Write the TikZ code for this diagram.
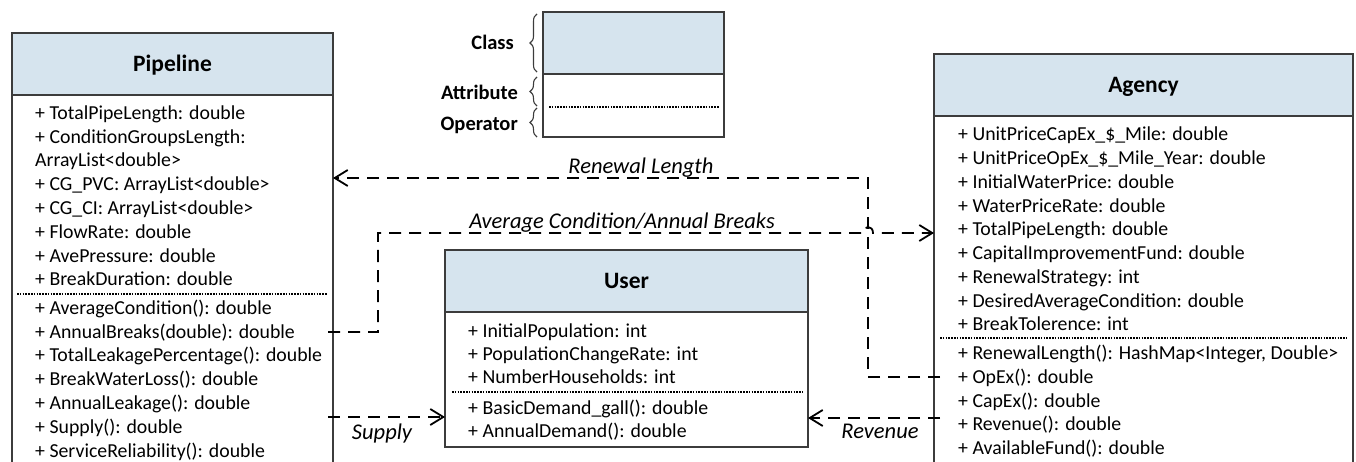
\documentclass[tikz,border=0pt]{standalone}
\usepackage{fontspec}
\setmainfont{Carlito}
\usetikzlibrary{arrows.meta,decorations.pathreplacing,calc}
\definecolor{hdr}{RGB}{214,228,238}
\definecolor{edge}{RGB}{60,60,60}
\begin{document}
\begin{tikzpicture}[x=1pt,y=-1pt,
  box/.style={draw=edge,line width=1.3pt},
  hdrbox/.style={box,fill=hdr,inner sep=0pt,outer sep=0pt,anchor=north west,
    font=\fontsize{23.5}{28}\selectfont\bfseries,text height=15pt,text depth=0pt},
  member/.style={anchor=west,inner sep=0pt,font=\fontsize{19.8}{23}\selectfont,
    text height=12.5pt,text depth=0pt},
  sepline/.style={draw=black,line width=1.2pt,dash pattern=on 1.5pt off 1.3pt},
  conn/.style={line width=1.8pt,dash pattern=on 12pt off 8pt,
    -{Straight Barb[length=13pt,width=16pt]}},
  lbl/.style={inner sep=0pt,font=\fontsize{22.5}{27}\selectfont\itshape,
    text height=14pt,text depth=0pt},
  legl/.style={anchor=east,inner sep=0pt,font=\fontsize{20.5}{24}\selectfont\bfseries,
    text height=13pt,text depth=0pt},
  bracel/.style={draw=edge,line width=1.1pt,decorate,decoration={brace,amplitude=7pt}}
]
\useasboundingbox (0,0) rectangle (1356,462);

% ---------------- Legend ----------------
\node[hdrbox,minimum width=181pt,minimum height=62pt] (legend) at (543,12) {};
\draw[box] (legend.south west) -- (543,137) -- (724,137) -- (legend.south east);
\draw[sepline] (549,107) -- (719,107);
\draw[bracel] (537,72) -- (537,14);
\draw[bracel] (537,106) -- (537,77);
\draw[bracel] (537,137) -- (537,108);
\node[legl] (lgC) at (514,43) {Class};
\node[legl] (lgA) at (518,93) {Attribute};
\node[legl] (lgO) at (518,124) {Operator};

% ---------------- Pipeline ----------------
\node[hdrbox,minimum width=321pt,minimum height=62pt] (pipeline) at (12,33) {Pipeline};
\draw[box] (pipeline.south west) -- (12,462) (pipeline.south east) -- (333,462);
\node[member] (p1) at (35,113) {+ TotalPipeLength: double};
\node[member] (p2) at (35,137) {+ ConditionGroupsLength:};
\node[member] (p3) at (35,160) {ArrayList<double>};
\node[member] (p4) at (35,184) {+ CG\_PVC: ArrayList<double>};
\node[member] (p5) at (35,208) {+ CG\_CI: ArrayList<double>};
\node[member] (p6) at (35,232) {+ FlowRate: double};
\node[member] (p7) at (35,256) {+ AvePressure: double};
\node[member] (p8) at (35,279) {+ BreakDuration: double};
\draw[sepline] (17,294) -- (327,294);
\node[member] (p9) at (35,308) {+ AverageCondition(): double};
\node[member] (pAB) at (35,332) {+ AnnualBreaks(double): double};
\node[member] (p11) at (35,355) {+ TotalLeakagePercentage(): double};
\node[member] (p12) at (35,379) {+ BreakWaterLoss(): double};
\node[member] (p13) at (35,403) {+ AnnualLeakage(): double};
\node[member] (p14) at (35,427) {+ Supply(): double};
\node[member] (p15) at (35,451) {+ ServiceReliability(): double};

% ---------------- Agency ----------------
\node[hdrbox,minimum width=419pt,minimum height=62pt] (agency) at (934,54) {Agency};
\draw[box] (agency.south west) -- (934,462) (agency.south east) -- (1353,462);
\node[member] (a1) at (958,134) {+ UnitPriceCapEx\_\$\_Mile: double};
\node[member] (a2) at (958,158) {+ UnitPriceOpEx\_\$\_Mile\_Year: double};
\node[member] (a3) at (958,182) {+ InitialWaterPrice: double};
\node[member] (a4) at (958,206) {+ WaterPriceRate: double};
\node[member] (a5) at (958,229) {+ TotalPipeLength: double};
\node[member] (a6) at (958,253) {+ CapitalImprovementFund: double};
\node[member] (a7) at (958,277) {+ RenewalStrategy: int};
\node[member] (a8) at (958,301) {+ DesiredAverageCondition: double};
\node[member] (a9) at (958,324) {+ BreakTolerence: int};
\draw[sepline] (940,338) -- (1347,338);
\node[member] (a10) at (958,353) {+ RenewalLength(): HashMap<Integer, Double>};
\node[member] (aOpEx) at (958,377) {+ OpEx(): double};
\node[member] (a12) at (958,401) {+ CapEx(): double};
\node[member] (a13) at (958,424) {+ Revenue(): double};
\node[member] (a14) at (958,448) {+ AvailableFund(): double};

% ---------------- User ----------------
\node[hdrbox,minimum width=363pt,minimum height=62pt] (user) at (445,250) {User};
\draw[box] (user.south west) -- (445,447) -- (808,447) -- (user.south east);
\node[member] (u1) at (468,331) {+ InitialPopulation: int};
\node[member] (u2) at (468,354) {+ PopulationChangeRate: int};
\node[member] (u3) at (468,377) {+ NumberHouseholds: int};
\draw[sepline] (452,392) -- (803,392);
\node[member] (u4) at (468,408) {+ BasicDemand\_gall(): double};
\node[member] (u5) at (468,431) {+ AnnualDemand(): double};

% ---------------- Connectors ----------------
\coordinate (rnc) at (868,178);
\coordinate (acv) at (378,233);
\coordinate (spy) at (400,417);
\coordinate (rvy) at (870,418);

\draw[conn] ($(agency.west |- aOpEx)+(6,0)$) -| (rnc) -- (pipeline.east |- rnc);
\draw[conn] ($(pipeline.east |- pAB)+(-5,0)$) -| (acv)
  -- ($(rnc |- acv)+(-5,0)$) .. controls ($(rnc |- acv)+(-5,-8)$) and ($(rnc |- acv)+(5,-8)$) .. ($(rnc |- acv)+(5,0)$)
  -- (agency.west |- acv);
\draw[conn] ($(pipeline.east |- spy)+(-5,0)$) -- (user.west |- spy);
\draw[conn] ($(agency.west |- rvy)+(6,0)$) -- (user.east |- rvy);

\node[lbl] (lRen) at (641,167) {Renewal Length};
\node[lbl] (lAvg) at (622,222) {Average Condition/Annual Breaks};
\node[lbl] (lSup) at (382,432) {Supply};
\node[lbl] (lRev) at (880,431) {Revenue};
\end{tikzpicture}
\end{document}
